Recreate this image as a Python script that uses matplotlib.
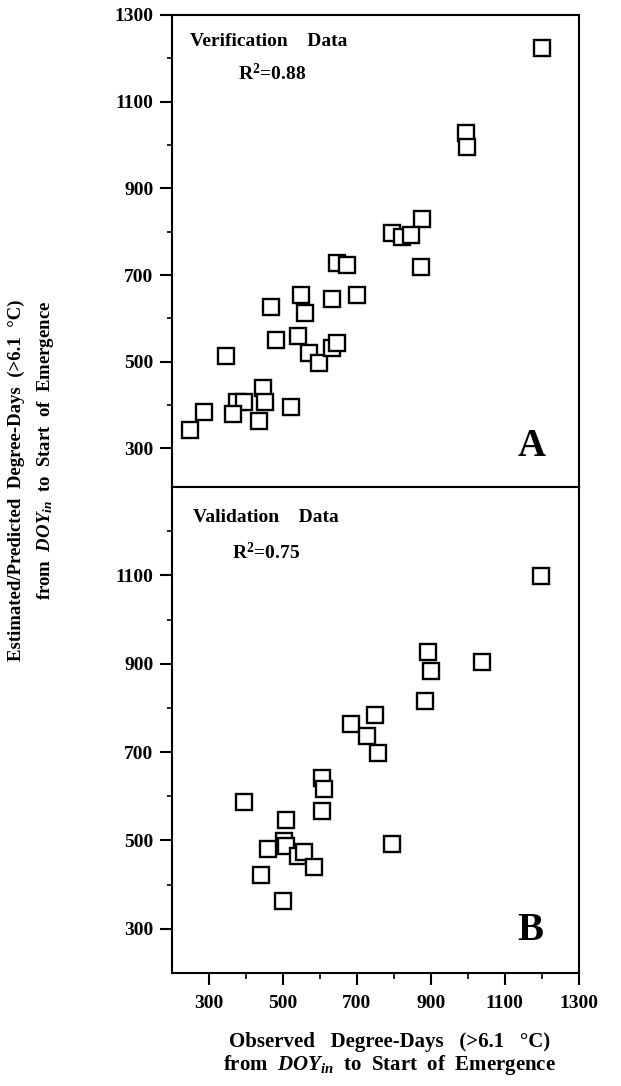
import numpy as np
import matplotlib.pyplot as plt
from matplotlib.ticker import FixedLocator

plt.rcParams['font.family'] = 'Liberation Serif'
plt.rcParams['font.weight'] = 'bold'
plt.rcParams['mathtext.fontset'] = 'custom'
plt.rcParams['mathtext.rm'] = 'Liberation Serif:bold'
plt.rcParams['mathtext.it'] = 'Liberation Serif:italic:bold'

# panel A: verification data (observed, estimated)
obs_a = [1201, 994, 998, 876, 795, 822, 847, 874, 647, 674, 548, 633, 699, 467, 559,
         480, 541, 570, 597, 632, 645, 347, 447, 451, 376, 396, 366, 521, 435, 286, 249]
est_a = [1223, 1027, 996, 829, 798, 787, 792, 719, 727, 723, 654, 645, 654, 626, 613,
         549, 560, 520, 498, 531, 543, 513, 440, 408, 408, 408, 379, 396, 364, 385, 343]

# panel B: validation data (observed, predicted)
obs_b = [1198, 892, 901, 1039, 883, 750, 685, 726, 758, 605, 611, 605, 395, 795,
         507, 503, 460, 508, 540, 557, 584, 441, 500]
pred_b = [1098, 926, 883, 905, 815, 785, 763, 737, 699, 642, 616, 567, 587, 492,
          546, 498, 480, 487, 465, 475, 440, 423, 363]

yticks_a = [300, 500, 700, 900, 1100, 1300]
yticks_b = [300, 500, 700, 900, 1100]
xticks = [300, 500, 700, 900, 1100, 1300]
minor = [400, 600, 800, 1000, 1200]

fig = plt.figure(figsize=(6.21, 10.86), dpi=100)
ax_a = fig.add_axes([0.277, 0.5516, 0.655, 0.4346])
ax_b = fig.add_axes([0.277, 0.104, 0.655, 0.4476])

mk = dict(ls='none', marker='s', ms=11, mfc='white', mec='black', mew=1.7)
ax_a.plot(obs_a, est_a, **mk)
ax_b.plot(obs_b, pred_b, **mk)

ax_a.set_ylim(211, 1300)
ax_b.set_ylim(200, 1300)

for ax, yt in ((ax_a, yticks_a), (ax_b, yticks_b)):
    ax.set_xlim(200, 1300)
    for s in ax.spines.values():
        s.set_linewidth(1.5)
    ax.yaxis.set_major_locator(FixedLocator(yt))
    ax.yaxis.set_minor_locator(FixedLocator(minor))
    ax.tick_params(axis='y', which='major', direction='out', length=8.5, width=1.5,
                   pad=5, labelsize=14)
    ax.tick_params(axis='y', which='minor', direction='out', length=3.5, width=1.2)

ax_a.tick_params(axis='x', which='both', bottom=False, labelbottom=False)
ax_b.xaxis.set_major_locator(FixedLocator(xticks))
ax_b.xaxis.set_minor_locator(FixedLocator(minor))
ax_b.tick_params(axis='x', which='major', direction='out', length=8.5, width=1.5,
                 pad=7, labelsize=14)
ax_b.tick_params(axis='x', which='minor', direction='out', length=4, width=1.2)

ax_a.text(0.044, 0.943, 'Verification    Data', transform=ax_a.transAxes,
          fontsize=14, va='center', ha='left')
ax_a.text(0.162, 0.877, r'R$^{2}$=0.88', transform=ax_a.transAxes,
          fontsize=14, va='center', ha='left')
ax_a.text(0.885, 0.085, 'A', transform=ax_a.transAxes,
          fontsize=28, va='center', ha='center')

ax_b.text(0.052, 0.938, 'Validation    Data', transform=ax_b.transAxes,
          fontsize=14, va='center', ha='left')
ax_b.text(0.147, 0.866, r'R$^{2}$=0.75', transform=ax_b.transAxes,
          fontsize=14, va='center', ha='left')
ax_b.text(0.880, 0.088, 'B', transform=ax_b.transAxes,
          fontsize=28, va='center', ha='center')

fig.text(0.628, 0.0405, 'Observed   Degree-Days   (>6.1   °C)', fontsize=15,
         ha='center', va='center')
fig.text(0.628, 0.019, r'from  $DOY_{in}$  to  Start  of  Emergence', fontsize=15,
         ha='center', va='center')

fig.text(0.027, 0.558, 'Estimated/Predicted  Degree-Days  (>6.1  °C)', fontsize=13.5,
         rotation=90, ha='center', va='center')
fig.text(0.074, 0.585, r'from  $DOY_{in}$  to  Start  of  Emergence', fontsize=13.5,
         rotation=90, ha='center', va='center')

fig.savefig('out.png', dpi=100)
